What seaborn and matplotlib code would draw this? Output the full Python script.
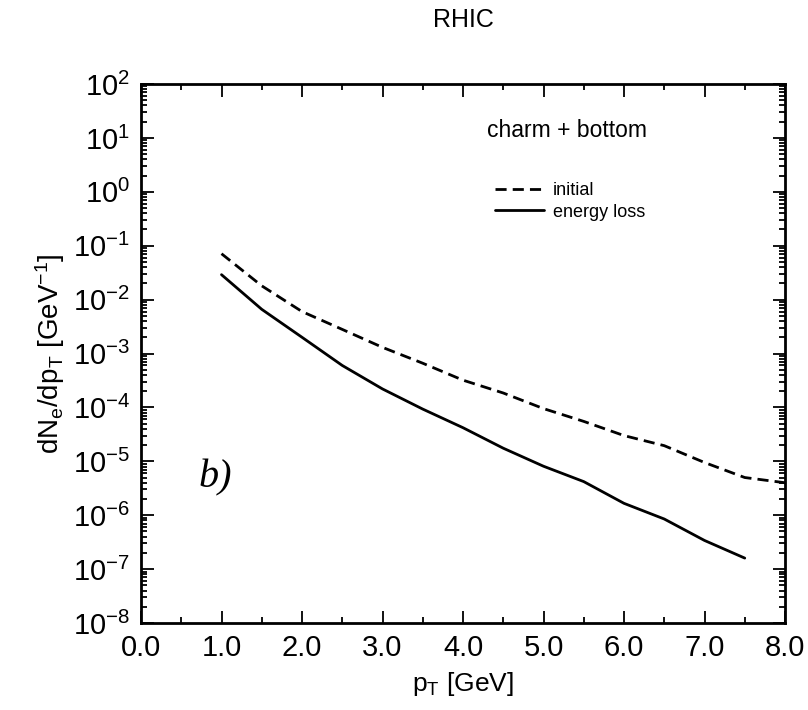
import numpy as np
import pandas as pd
import matplotlib
matplotlib.use("Agg")
import matplotlib.pyplot as plt
import matplotlib.ticker as mticker
import seaborn as sns

# ---- data ----
pt_initial = [1.0, 1.5, 2.0, 2.5, 3.0, 3.5, 4.0, 4.5, 5.0, 5.5, 6.0, 6.5, 7.0, 7.5, 8.0]
dn_initial = [7.1e-2, 1.8e-2, 6.0e-3, 2.8e-3, 1.3e-3, 6.6e-4, 3.2e-4, 1.85e-4,
              9.5e-5, 5.5e-5, 3.0e-5, 1.95e-5, 9.5e-6, 5.0e-6, 4.0e-6]
pt_eloss = [1.0, 1.5, 2.0, 2.5, 3.0, 3.5, 4.0, 4.5, 5.0, 5.5, 6.0, 6.5, 7.0, 7.5]
dn_eloss = [2.9e-2, 6.6e-3, 2.0e-3, 6.0e-4, 2.2e-4, 9.3e-5, 4.2e-5, 1.75e-5,
            8.1e-6, 4.2e-6, 1.66e-6, 8.5e-7, 3.4e-7, 1.6e-7]
series_labels = ["initial", "energy loss"]
x_ticks = [0.0, 1.0, 2.0, 3.0, 4.0, 5.0, 6.0, 7.0, 8.0]
y_exponents = [-8, -7, -6, -5, -4, -3, -2, -1, 0, 1, 2]

sns.set_theme(style="ticks")
plt.rcParams["font.family"] = ["Liberation Sans", "DejaVu Sans"]
plt.rcParams["mathtext.fontset"] = "custom"
plt.rcParams["mathtext.rm"] = "Liberation Sans"
plt.rcParams["mathtext.it"] = "Liberation Sans:italic"
plt.rcParams["mathtext.default"] = "regular"
for k in ["text.color", "axes.labelcolor", "xtick.color", "ytick.color", "axes.edgecolor"]:
    plt.rcParams[k] = "black"

df = pd.concat([
    pd.DataFrame({"pT": pt_initial, "dN": dn_initial, "curve": series_labels[0]}),
    pd.DataFrame({"pT": pt_eloss, "dN": dn_eloss, "curve": series_labels[1]}),
])

fig = plt.figure(figsize=(8.08, 7.10), dpi=100)
ax = fig.add_axes([141 / 808, 1 - 623 / 710, (785 - 141) / 808, (623 - 84) / 710])

sns.lineplot(data=df[df.curve == series_labels[0]], x="pT", y="dN", ax=ax,
             color="black", lw=2.0, label=series_labels[0])
sns.lineplot(data=df[df.curve == series_labels[1]], x="pT", y="dN", ax=ax,
             color="black", lw=2.0, label=series_labels[1])
ax.lines[0].set_dashes([4, 2.2])

ax.set_yscale("log")
ax.set_xlim(0, 8)
ax.set_ylim(10.0 ** min(y_exponents), 10.0 ** max(y_exponents))

ax.set_xticks(x_ticks)
ax.set_xticklabels([f"{v:.1f}" for v in x_ticks])
ax.xaxis.set_minor_locator(mticker.MultipleLocator(0.5))
ax.set_yticks([10.0 ** e for e in y_exponents])
ax.set_yticklabels([r"$10^{%d}$" % e for e in y_exponents])
ax.yaxis.set_minor_locator(mticker.LogLocator(base=10, subs=np.arange(2, 10), numticks=20))
ax.yaxis.set_minor_formatter(mticker.NullFormatter())

ax.tick_params(which="both", direction="in", top=True, right=True, color="black", width=1.3)
ax.tick_params(which="major", length=9, labelsize=21, pad=8, labelcolor="black")
ax.tick_params(which="minor", length=4.5)
for s in ax.spines.values():
    s.set_linewidth(2.0)
    s.set_color("black")

ax.set_xlabel(r"p$_T$ [GeV]", fontsize=19, labelpad=6, color="black")
ax.set_ylabel(r"dN$_e$/dp$_T$ [GeV$^{-1}$]", fontsize=20, labelpad=4, color="black")
fig.text(463 / 808, 1 - 20 / 710, "RHIC", ha="center", va="center", fontsize=18, color="black")

ax.text(0.537, 0.913, "charm + bottom", transform=ax.transAxes, fontsize=16.5,
        ha="left", va="center", color="black")
ax.text(0.09, 0.270, "b)", transform=ax.transAxes, fontsize=29, color="black",
        family="Liberation Serif", style="italic", ha="left", va="center")

leg = ax.legend(loc="center left", bbox_to_anchor=(0.525, 0.782), frameon=False,
                fontsize=13, handlelength=2.7, handletextpad=0.5, labelspacing=0.25)
for t in leg.get_texts():
    t.set_color("black")

fig.savefig("out.png", dpi=100)
